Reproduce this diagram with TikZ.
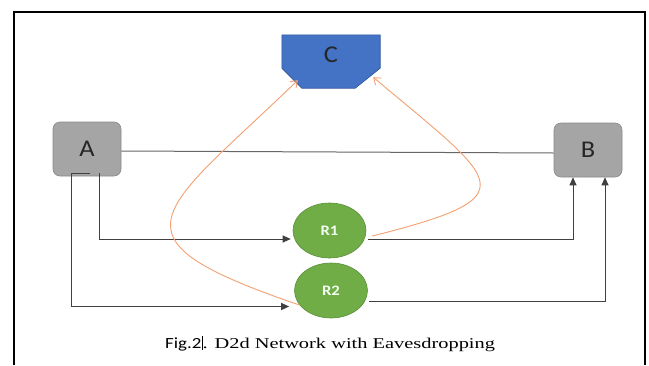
\documentclass[tikz,border=0pt]{standalone}
\usepackage{fontspec}
\setmainfont{Liberation Serif}
\newfontfamily\carlito{Carlito}
\usetikzlibrary{arrows.meta,shapes.geometric}
\definecolor{cblue}{HTML}{4472C4}
\definecolor{cblueline}{HTML}{2F5597}
\definecolor{cgray}{HTML}{A5A5A5}
\definecolor{cgrayline}{HTML}{8A8A8A}
\definecolor{cgreen}{HTML}{70AD47}
\definecolor{cgreenline}{HTML}{5A8F38}
\definecolor{corange}{HTML}{F4A070}
\definecolor{cline}{HTML}{404040}
\newcommand{\wide}[2]{\scalebox{#1}[1]{#2}}
\tikzset{
  device/.style={draw=cgrayline, fill=cgray, rounded corners=7pt, line width=0.6pt,
    minimum width=68pt, minimum height=54pt, inner sep=0pt,
    font=\carlito\fontsize{24}{26}\selectfont, text=black!85},
  relay/.style={ellipse, draw=cgreenline, fill=cgreen, line width=0.6pt,
    minimum width=73pt, minimum height=55pt, inner sep=0pt,
    font=\carlito\bfseries\fontsize{14.5}{16}\selectfont, text=white!95!green},
  link/.style={draw=cline, line width=1pt, -{Triangle[length=8pt,width=7pt]}},
  plainlink/.style={draw=gray!80!black, line width=1pt},
  leak/.style={draw=corange, line width=0.9pt, -{Straight Barb[length=6pt,width=9pt]}}
}
\begin{document}
\begin{tikzpicture}[x=1pt,y=-1pt]
\useasboundingbox (0,0) rectangle (649,365);
\fill[white] (0,0) rectangle (649,365);
% page frame
\draw[line width=2.5pt] (14,365) -- (14,12) -- (645,12) -- (645,365);

% eavesdropper C: box with chamfered lower corners
\node[minimum width=98pt, minimum height=53pt, inner sep=0pt] (c) at (331,61.5) {};
\fill[cblue, draw=cblueline, line width=0.6pt]
  (c.north west) -- (c.north east) -- ([yshift=20pt]c.south east)
  -- ([xshift=-25pt]c.south east) -- ([xshift=20pt]c.south west)
  -- ([yshift=20pt]c.south west) -- cycle;
\node[font=\carlito\fontsize{24}{26}\selectfont, text=black!85] at (331,55) {\wide{1.1}{C}};

% devices and relays
\node[device] (a) at (87,149) {\wide{1.1}{A}};
\node[device] (b) at (588,150) {\wide{1.1}{B}};
\node[relay] (r1) at (329.5,230.5) {\wide{1.15}{R1}};
\node[relay] (r2) at (331,290.5) {\wide{1.15}{R2}};

% direct link A - B
\draw[plainlink] ([yshift=-2pt]a.east) -- ([yshift=-3pt]b.west);

% relayed links
\draw[link] ([xshift=12pt,yshift=3pt]a.south) |- ([shift={(-2pt,-8.5pt)}]r1.west);
\draw[link] ([xshift=3pt,yshift=3pt]a.south) -- ([xshift=-16pt,yshift=3pt]a.south)
  |- ([shift={(-5pt,-16pt)}]r2.west);
\draw[link] ([shift={(2pt,-8.5pt)}]r1.east) -| ([xshift=-15pt]b.south);
\draw[link] ([shift={(1pt,-10.5pt)}]r2.east) -| ([xshift=17pt]b.south);

% eavesdropping paths to C
\draw[leak] ([shift={(6pt,-5.5pt)}]r1.east)
  .. controls (532,196) and (499,183) .. ([shift={(-7pt,11pt)}]c.south east);
\draw[leak] (r2.205)
  .. controls (100,237) and (158,215) .. ([shift={(16pt,8pt)}]c.south west);

% caption
\node[anchor=base west, inner sep=0pt] (cap) at (165,348)
  {\wide{1.22}{\carlito\fontsize{15.5}{17}\selectfont Fig.2}\hspace{0.5pt}\rule[-2pt]{0.7pt}{14pt}\wide{1.36}{\fontsize{15}{17}\selectfont . D2d Network with Eavesdropping}};
\end{tikzpicture}
\end{document}
